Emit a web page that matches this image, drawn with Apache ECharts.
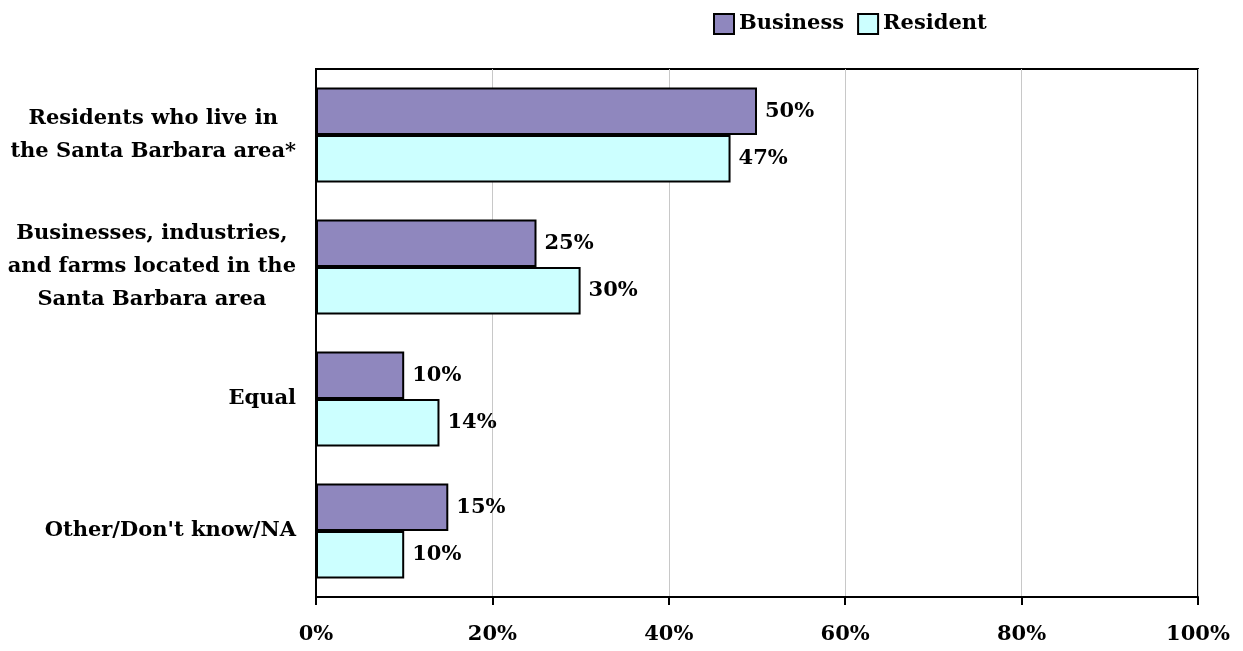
<!DOCTYPE html>
<html>
<head>
<meta charset="utf-8">
<script src="https://cdn.jsdelivr.net/npm/echarts@6/dist/echarts.min.js"></script>
<style>
html,body{margin:0;padding:0;background:#fff;}
#chart{width:1243px;height:651px;}
</style>
</head>
<body>
<div id="chart"></div>
<script>
// Who should get priority: survey shares by respondent group
const categories = [
  'Residents who live in\nthe Santa Barbara area*',
  'Businesses, industries,\nand farms located in the\nSanta Barbara area',
  'Equal',
  "Other/Don't know/NA"
];
const businessValues = [50, 25, 10, 15];
const residentValues = [47, 30, 14, 10];
const tickValues = [0, 20, 40, 60, 80, 100];

const FONT = '"DejaVu Serif", "Liberation Serif", serif';

const chart = echarts.init(document.getElementById('chart'));

const labelStyle = {
  show: true,
  position: 'right',
  distance: 8,
  formatter: p => p.value + '%',
  fontFamily: FONT,
  fontWeight: 'bold',
  fontSize: 21,
  color: '#000'
};

chart.setOption({
  animation: false,
  backgroundColor: '#fff',
  legend: {
    top: 8,
    left: 708,
    itemWidth: 20,
    itemHeight: 20,
    itemGap: 13,
    icon: 'rect',
    textStyle: { fontFamily: FONT, fontWeight: 'bold', fontSize: 21, color: '#000', padding: [0, 0, 0, 0] },
    data: ['Business', 'Resident']
  },
  grid: { left: 316, right: 45, top: 69, bottom: 54, show: true, borderColor: '#000', borderWidth: 2 },
  xAxis: {
    type: 'value',
    min: tickValues[0],
    max: tickValues[tickValues.length - 1],
    interval: 20,
    axisLine: { show: true, lineStyle: { color: '#000', width: 2 } },
    axisTick: { show: true, length: 8, lineStyle: { color: '#000', width: 2 } },
    splitLine: { show: true, lineStyle: { color: '#c8c8c8', width: 1 } },
    axisLabel: {
      formatter: v => v + '%',
      margin: 27,
      fontFamily: FONT, fontWeight: 'bold', fontSize: 21, color: '#000'
    }
  },
  yAxis: {
    type: 'category',
    inverse: true,
    data: categories,
    axisLine: { show: true, lineStyle: { color: '#000', width: 2 } },
    axisTick: { show: false },
    axisLabel: {
      margin: 20,
      align: 'right',
      fontFamily: FONT, fontWeight: 'bold', fontSize: 21, lineHeight: 33, color: '#000',
      // each line is centred within the right-aligned text block
      formatter: v => v.split('\n').map(line => '{c|' + line + '}').join('\n'),
      rich: {
        c: { align: 'center', fontFamily: FONT, fontWeight: 'bold', fontSize: 21, lineHeight: 33, color: '#000' }
      }
    }
  },
  series: [
    {
      name: 'Business',
      type: 'bar',
      data: businessValues,
      barGap: '0%',
      barCategoryGap: '28%',
      itemStyle: { color: '#8f87be', borderColor: '#000', borderWidth: 2 },
      label: labelStyle
    },
    {
      name: 'Resident',
      type: 'bar',
      data: residentValues,
      barGap: '0%',
      barCategoryGap: '28%',
      itemStyle: { color: '#ccffff', borderColor: '#000', borderWidth: 2 },
      label: labelStyle
    }
  ]
});
</script>
</body>
</html>
